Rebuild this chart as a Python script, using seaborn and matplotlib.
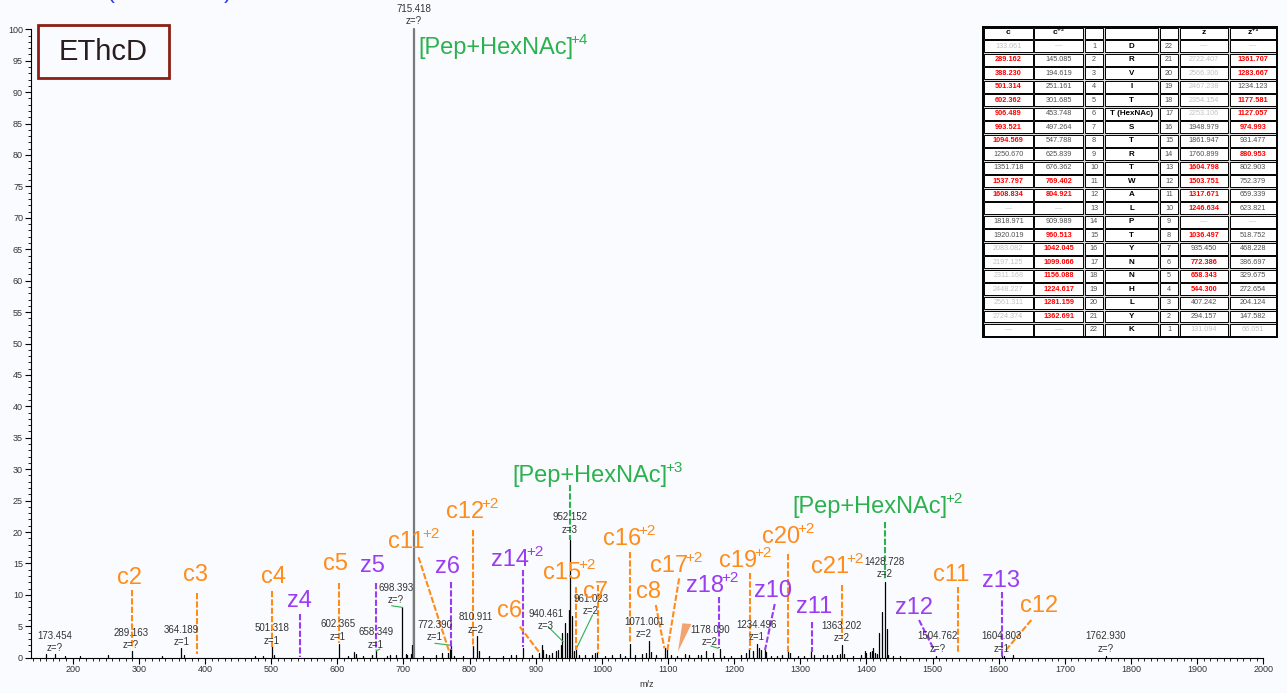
import numpy as np
import pandas as pd
import matplotlib
matplotlib.use("Agg")
import matplotlib.pyplot as plt
from matplotlib.patches import Rectangle, Polygon
from matplotlib.ticker import MultipleLocator
import seaborn as sns

# ---------------- spectrum data ----------------
base_peak_mz = 715.418
base_peak_int = 100.0

peak_mz = [159.0, 173.454, 188.0, 211.0, 254.0, 289.163, 334.5, 364.189, 367.8, 475.5,
           488.0, 501.318, 504.0, 602.365, 616.5, 625.6, 629.0, 639.2, 652.0, 658.349,
           674.5, 679.5, 688.6, 698.393, 703.8, 706.0, 711.0, 713.5, 714.4, 729.9,
           750.0, 759.0, 767.6, 770.0, 772.390, 776.0, 790.0, 805.0, 810.911, 814.5,
           830.0, 850.0, 862.0, 870.0, 880.9, 895.0, 905.0, 908.8, 911.2, 915.0,
           920.0, 925.0, 930.0, 933.9, 938.0, 940.461, 943.9, 947.5, 950.8, 952.152,
           955.6, 958.0, 961.023, 965.0, 975.0, 985.0, 989.3, 992.8, 1005.0, 1015.0,
           1028.0, 1035.0, 1042.2, 1050.0, 1060.0, 1066.0, 1071.001, 1075.0, 1082.0, 1095.1,
           1098.6, 1105.0, 1113.0, 1125.0, 1132.0, 1145.0, 1150.6, 1157.6, 1168.0, 1178.090,
           1185.0, 1195.0, 1210.0, 1218.0, 1222.6, 1228.0, 1234.496, 1237.6, 1240.0, 1246.2,
           1248.8, 1256.0, 1265.0, 1272.0, 1281.5, 1284.0, 1296.0, 1305.0, 1316.8, 1320.0,
           1335.0, 1340.0, 1348.0, 1355.0, 1360.0, 1363.202, 1366.0, 1380.0, 1392.0, 1397.4,
           1400.0, 1404.9, 1408.0, 1409.9, 1413.0, 1416.0, 1419.0, 1424.1, 1428.728, 1430.5,
           1433.0, 1440.0, 1450.0, 1504.762, 1604.803, 1608.0, 1622.0, 1762.930]
peak_int = [0.6, 0.6, 0.2, 0.3, 0.4, 1.0, 0.3, 1.6, 0.4, 0.2,
            0.3, 1.9, 0.5, 2.2, 0.3, 0.9, 0.6, 0.3, 0.4, 1.0,
            0.3, 0.4, 0.5, 8.0, 0.6, 0.5, 0.6, 2.0, 11.3, 0.3,
            0.4, 0.8, 0.8, 1.2, 1.8, 0.3, 0.3, 1.8, 3.4, 1.0,
            0.3, 0.3, 0.4, 0.5, 1.5, 0.4, 0.8, 2.0, 1.2, 0.6,
            0.5, 0.7, 1.0, 1.3, 2.0, 3.9, 5.5, 4.0, 7.6, 18.8,
            6.6, 1.0, 1.5, 0.5, 0.4, 0.5, 0.8, 0.9, 0.3, 0.4,
            0.6, 0.3, 2.2, 0.4, 0.6, 0.8, 2.6, 0.9, 0.4, 1.6,
            1.5, 0.5, 0.3, 0.6, 0.4, 0.4, 0.5, 1.0, 0.8, 1.4,
            0.3, 0.3, 0.5, 0.7, 1.5, 1.0, 2.2, 1.5, 1.2, 1.2,
            0.9, 0.3, 0.3, 0.4, 1.0, 0.7, 0.3, 0.3, 1.0, 0.4,
            0.5, 0.4, 0.5, 0.5, 0.6, 2.1, 0.6, 0.3, 0.4, 1.0,
            0.7, 0.9, 1.1, 1.6, 0.8, 0.6, 4.0, 7.3, 12.1, 4.6,
            0.5, 0.3, 0.2, 0.3, 0.5, 0.3, 0.5, 0.3]

# annotated peaks: m/z text, charge text, label anchor (m/z, intensity)
ann_mz = ["173.454", "289.163", "364.189", "501.318", "602.365", "658.349", "698.393",
          "715.418", "772.390", "810.911", "940.461", "952.152", "961.023", "1071.001",
          "1178.090", "1234.496", "1363.202", "1428.728", "1504.762", "1604.803", "1762.930"]
ann_z = ["?", "?", "1", "1", "1", "1", "?", "?", "1", "2", "3", "3", "2", "2",
         "2", "1", "2", "2", "?", "1", "?"]
ann_pos = [(173.3, 2.5), (288.1, 3.0), (364.7, 3.5), (501.2, 3.7), (601.0, 4.3),
           (658.4, 3.05), (688.6, 10.1), (715.9, 102.3), (747.5, 4.25), (809.5, 5.44),
           (915.5, 6.0), (951.6, 21.35), (983.3, 8.39), (1063.9, 4.73), (1163.1, 3.45),
           (1234.2, 4.25), (1362.7, 4.09), (1427.6, 14.27), (1507.7, 2.42), (1604.4, 2.42),
           (1761.6, 2.42)]

# short solid leaders from peak labels to their peaks
leader_from = [(682.1, 8.27), (658.4, 1.07), (747.5, 2.29), (918.8, 4.93), (985.9, 6.8), (1164.7, 1.86)]
leader_to = [(698.7, 8.0), (664.4, 1.37), (770.2, 2.0), (941.5, 2.55), (961.7, 1.5), (1175.7, 1.5)]

# fragment ion assignments
frag_name = ["c2", "c3", "c4", "c5", "z4", "z5", "c11", "z6", "c12", "z14", "c6", "c15", "c7",
             "c16", "c8", "c17", "z18", "c19", "z10", "c20", "z11", "c21", "z12", "c11", "z13", "c12"]
frag_charge = ["", "", "", "", "", "", "+2", "", "+2", "+2", "", "+2", "",
               "+2", "", "+2", "+2", "+2", "", "+2", "", "+2", "", "", "", ""]
frag_mz = [289.162, 388.230, 501.314, 602.362, 544.300, 658.343, 769.402, 772.386, 804.921,
           880.953, 906.489, 960.513, 993.521, 1042.045, 1094.569, 1099.066, 1177.581,
           1224.617, 1246.634, 1281.159, 1317.671, 1362.691, 1503.751, 1537.797, 1604.798, 1608.834]
frag_text = [(267.0, 11.73), (366.7, 12.2), (484.6, 11.89), (578.3, 13.96), (523.9, 8.07),
             (634.2, 13.64), (676.5, 17.46), (747.5, 13.48), (764.2, 22.23), (832.2, 14.59),
             (841.3, 6.48), (910.8, 12.52), (971.2, 9.5), (1001.4, 17.93), (1051.3, 9.5),
             (1072.5, 13.64), (1126.9, 10.45), (1176.8, 14.43), (1229.6, 9.66), (1241.8, 18.25),
             (1293.1, 7.11), (1315.8, 13.48), (1442.8, 6.95), (1500.2, 12.2), (1574.2, 11.25),
             (1631.7, 7.27)]
frag_line_top = [(289.162, 10.8), (388.23, 10.25), (501.314, 10.66), (602.362, 11.93),
                 (544.300, 6.9), (658.343, 11.84), (722.9, 15.98), (772.386, 12.1),
                 (804.921, 20.3), (880.953, 13.96), (876.0, 4.93), (960.513, 11.3),
                 (993.521, 11.57), (1042.045, 16.87), (1081.5, 8.39), (1116.8, 12.63),
                 (1177.581, 9.7), (1224.617, 13.43), (1261.4, 8.55), (1281.159, 16.5),
                 (1317.671, 5.7), (1362.691, 11.57), (1479.5, 6.0), (1537.797, 11.3),
                 (1604.798, 10.5), (1649.3, 6.0)]
frag_line_bottom = [1.5, 0.6, 1.75, 2.3, 0.15, 1.2, 0.9, 1.2, 1.75, 1.75, 0.7, 1.2, 0.8,
                    2.55, 1.5, 1.2, 1.5, 1.2, 1.2, 0.95, 0.95, 3.1, 0.95, 0.95, 0.15, 0.95]

# precursor labels
prec_charge = ["+4", "+3", "+2"]
prec_text = [(721.9, 96.07), (865.4, 27.96), (1288.6, 23.03)]
prec_line_mz = [None, 952.152, 1427.7]
prec_line_y = [None, (27.5, 18.7), (21.6, 12.4)]

# fragment table
tab_header = ["c", "c\u207a\u00b2", "", "", "", "z", "z\u207a\u00b2"]
res_index = list(range(1, 23))
residues = ["D", "R", "V", "I", "T", "T (HexNAc)", "S", "T", "R", "T", "W", "A", "L", "P",
            "T", "Y", "N", "N", "H", "L", "Y", "K"]
c_vals = ["133.061", "289.162", "388.230", "501.314", "602.362", "906.489", "993.521",
          "1094.569", "1250.670", "1351.718", "1537.797", "1608.834", "\u2014", "1818.971",
          "1920.019", "2083.082", "2197.125", "2311.168", "2448.227", "2561.311", "2724.374", "\u2014"]
c_state = "grrrrrrrnnrrgnngggggg" + "g"
c2_vals = ["\u2014", "145.085", "194.619", "251.161", "301.685", "453.748", "497.264",
           "547.788", "625.839", "676.362", "769.402", "804.921", "\u2014", "909.989",
           "960.513", "1042.045", "1099.066", "1156.088", "1224.617", "1281.159", "1362.691", "\u2014"]
c2_state = "gnnnnnnnnnrrgnrrrrrrrg"
z_vals = ["\u2014", "2722.407", "2566.306", "2467.238", "2354.154", "2253.106", "1948.979",
          "1861.947", "1760.899", "1604.798", "1503.751", "1317.671", "1246.634", "\u2014",
          "1036.497", "935.450", "772.386", "658.343", "544.300", "407.242", "294.157", "131.094"]
z_state = "ggggggnnnrrrrgrnrrrnng"
z2_vals = ["\u2014", "1361.707", "1283.667", "1234.123", "1177.581", "1127.057", "974.993",
           "931.477", "880.953", "802.903", "752.379", "659.339", "623.821", "\u2014",
           "518.752", "468.228", "386.697", "329.675", "272.654", "204.124", "147.582", "66.051"]
z2_state = "grrnrrrnrnnnngnnnnnnng"

# ---------------- styling ----------------
sns.set_theme(style="ticks")
plt.rcParams["font.family"] = ["Liberation Sans", "DejaVu Sans"]

W, H = 1287, 693
bg = "#fafbfe"
ORANGE = "#ff8c1a"
PURPLE = "#9a3cf2"
GREEN = "#2bb14e"
TXT = "#333333"


def fx(px):
    return px / W


def fy(py):
    return 1 - py / H


def label_with_charge(axis, x, y, main, charge, color, size, sup_size):
    """Draw a label and, if given, a raised charge state right after it."""
    t = axis.text(x, y, main, color=color, fontsize=size, ha="left", va="baseline",
                  clip_on=False)
    if charge:
        axis.annotate(charge, xy=(1, 1), xycoords=t, xytext=(-1.8, 2.8),
                      textcoords="offset points", ha="left", va="top",
                      color=color, fontsize=sup_size, annotation_clip=False)
    return t


fig = plt.figure(figsize=(W / 100, H / 100), dpi=100, facecolor=bg)
ax = fig.add_axes([fx(30.7), fy(657.7), (1263.3 - 30.7) / W, (657.7 - 29.3) / H])
ax.set_facecolor(bg)

# stick spectrum through seaborn
rows = []
for i, (m, v) in enumerate(zip(peak_mz, peak_int)):
    rows.append((i, m, 0.0))
    rows.append((i, m, v))
sticks = pd.DataFrame(rows, columns=["peak", "mz", "intensity"])
sns.lineplot(data=sticks, x="mz", y="intensity", units="peak", estimator=None, sort=False,
             color="black", lw=0.9, ax=ax, legend=False)
base = pd.DataFrame({"peak": [0, 0], "mz": [base_peak_mz, base_peak_mz],
                     "intensity": [0.0, base_peak_int]})
sns.lineplot(data=base, x="mz", y="intensity", units="peak", estimator=None, sort=False,
             color="#7a7a7a", lw=1.6, ax=ax, legend=False)
for ln in ax.lines:
    ln.set_clip_on(False)

ax.set_xlim(136.5, 2000)
ax.set_ylim(0, 100)
ax.xaxis.set_major_locator(MultipleLocator(100))
ax.xaxis.set_minor_locator(MultipleLocator(10))
ax.yaxis.set_major_locator(MultipleLocator(5))
ax.yaxis.set_minor_locator(MultipleLocator(1))
ax.set_xticks([t for t in range(200, 2001, 100)])
ax.tick_params(axis="both", which="major", length=4, width=0.8, direction="out",
               labelsize=6.5, labelcolor=TXT, color="black", pad=1.5)
ax.tick_params(axis="both", which="minor", length=2.2, width=0.6, direction="out", color="black")
for s in ["top", "right"]:
    ax.spines[s].set_visible(False)
for s in ["left", "bottom"]:
    ax.spines[s].set_color("black")
    ax.spines[s].set_linewidth(0.8)
ax.set_xlabel("m/z", fontsize=6.5, color=TXT, labelpad=4)
ax.set_ylabel("")
ax.grid(False)

# peak labels
for mz_txt, z_txt, (x, y) in zip(ann_mz, ann_z, ann_pos):
    ax.text(x, y, f"{mz_txt}\nz={z_txt}", ha="center", va="center", fontsize=7,
            linespacing=1.3, color=TXT, clip_on=False)
for (x0, y0), (x1, y1) in zip(leader_from, leader_to):
    ax.plot([x0, x1], [y0, y1], color=GREEN, lw=0.8)

# fragment assignments
for name, chg, mz, (tx, ty), (lx, ly), lb in zip(frag_name, frag_charge, frag_mz, frag_text,
                                                 frag_line_top, frag_line_bottom):
    col = ORANGE if name.startswith("c") else PURPLE
    label_with_charge(ax, tx, ty, name, chg, col, 17, 11)
    ax.plot([lx, mz], [ly, lb], color=col, lw=1.5, ls=(0, (3, 1)))

# precursor labels
for chg, (tx, ty), lmz, ly in zip(prec_charge, prec_text, prec_line_mz, prec_line_y):
    label_with_charge(ax, tx, ty, "[Pep+HexNAc]", chg, GREEN, 17, 11)
    if lmz is not None:
        ax.plot([lmz, lmz], [ly[0], ly[1]], color=GREEN, lw=1.5, ls=(0, (3, 1)))

# arrowhead marker near c17
ax.add_patch(Polygon([(1115.0, 0.95), (1121.7, 5.47), (1135.4, 5.36)], closed=True,
                     facecolor="#f2a36e", edgecolor="none"))

# method box
fig.patches.append(Rectangle((fx(37.5), fy(78.3)), (169 - 37.5) / W, (78.3 - 25) / H,
                             transform=fig.transFigure, facecolor=bg, edgecolor="#8b1e16",
                             lw=2.0))
fig.text(fx(103), fy(52), "EThcD", ha="center", va="center", fontsize=21, color="#2a1d1d")

# partially visible title parentheses
fig.text(fx(107), fy(-1.5), "(", ha="left", va="baseline", fontsize=17, color="#2f3cf0")
fig.text(fx(224), fy(-1.5), ")", ha="left", va="baseline", fontsize=17, color="#2f3cf0")

# ---------------- fragment table ----------------
col_edges = [983.3, 1033.3, 1084.0, 1104.0, 1159.0, 1179.0, 1229.0, 1276.7]
row_edges = [26.7, 39.3] + [39.3 + 13.52 * k for k in range(1, 23)]
tx0, tx1, ty0, ty1 = col_edges[0], col_edges[-1], row_edges[0], row_edges[-1]
tab = fig.add_axes([fx(tx0), fy(ty1), (tx1 - tx0) / W, (ty1 - ty0) / H])
tab.set_xlim(tx0, tx1)
tab.set_ylim(ty1, ty0)
tab.axis("off")
tab.add_patch(Rectangle((tx0, ty0), tx1 - tx0, ty1 - ty0, facecolor="#d9d9d9",
                        edgecolor="black", lw=1.4, clip_on=False))
state_color = {"r": "#ff0000", "n": "#505050", "g": "#c4c4c4"}
n_rows = len(residues)
for r in range(n_rows + 1):
    y0, y1 = row_edges[r], row_edges[r + 1]
    for c in range(7):
        x0, x1 = col_edges[c], col_edges[c + 1]
        tab.add_patch(Rectangle((x0 + 0.8, y0 + 0.8), x1 - x0 - 1.6, y1 - y0 - 1.6,
                                facecolor="white", edgecolor="black", lw=0.7))
    cx = [(col_edges[c] + col_edges[c + 1]) / 2 for c in range(7)]
    cy = (y0 + y1) / 2
    if r == 0:
        for c in range(7):
            if tab_header[c]:
                tab.text(cx[c], cy, tab_header[c], ha="center", va="center", fontsize=6,
                         fontweight="bold", color="black")
        continue
    i = r - 1
    cells = [(c_vals[i], c_state[i]), (c2_vals[i], c2_state[i]), (str(res_index[i]), "n"),
             (residues[i], "res"), (str(23 - res_index[i]), "n"), (z_vals[i], z_state[i]),
             (z2_vals[i], z2_state[i])]
    for c, (txt, st) in enumerate(cells):
        if st == "res":
            tab.text(cx[c], cy, txt, ha="center", va="center", fontsize=5.8,
                     fontweight="bold", color="black")
        else:
            tab.text(cx[c], cy, txt, ha="center", va="center",
                     fontsize=5.3 if st == "r" else 5.2,
                     fontweight="bold" if st == "r" else "normal", color=state_color[st])

fig.savefig("out.png", dpi=100, facecolor=bg)
